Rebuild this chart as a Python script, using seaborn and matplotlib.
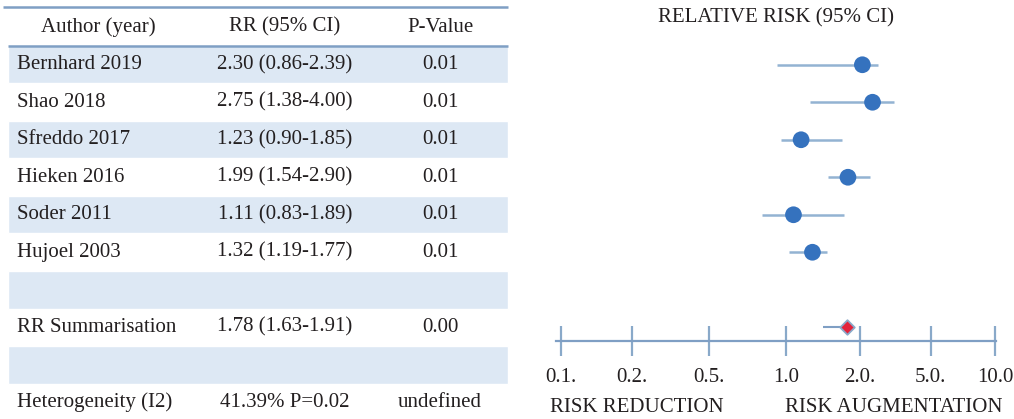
import numpy as np
import pandas as pd
import matplotlib.pyplot as plt
import matplotlib.transforms as mtrans
import seaborn as sns

# Table content
authors = ['Bernhard 2019', 'Shao 2018', 'Sfreddo 2017', 'Hieken 2016', 'Soder 2011', 'Hujoel 2003']
rr_ci = ['2.30 (0.86-2.39)', '2.75 (1.38-4.00)', '1.23 (0.90-1.85)',
         '1.99 (1.54-2.90)', '1.11 (0.83-1.89)', '1.32 (1.19-1.77)']
p_values = ['0.01', '0.01', '0.01', '0.01', '0.01', '0.01']
header = ['Author (year)', 'RR (95% CI)', 'P-Value']
summary_row = ['RR Summarisation', '1.78 (1.63-1.91)', '0.00']
hetero_row = ['Heterogeneity (I2)', '41.39% P=0.02', 'undefined']

# Forest values as drawn in the figure
point_est = [2.07, 2.36, 1.15, 1.79, 1.07, 1.28]
ci_low = [0.92, 1.25, 0.95, 1.48, 0.80, 1.03]
ci_high = [2.52, 3.10, 1.70, 2.28, 1.72, 1.47]
summ_est, summ_low, summ_high = 1.78, 1.41, 1.83

tick_values = [0.1, 0.2, 0.5, 1.0, 2.0, 5.0, 10.0]
tick_labels = ['0.1.', '0.2.', '0.5.', '1.0', '2.0.', '5.0.', '10.0']

sns.set_style('white')
plt.rcParams['font.family'] = ['Liberation Serif', 'DejaVu Serif']
TXT = '#231f20'
LINE = '#7f9fc4'
BAND = '#dde8f4'
FS = 15

W, H = 1014, 419
fig = plt.figure(figsize=(W / 100, H / 100), dpi=100)

# rows: centre of row r sits at pixel y0 + rh * r
y0, rh = 64.75, 37.5
def px2row(p):
    return (p - y0) / rh

# ---- table ----
ax_t = fig.add_axes([0, 0, 1, 1])
ax_t.set_xlim(0, W)
ax_t.set_ylim(px2row(H), px2row(0))
ax_t.axis('off')

shaded = [0, 2, 4, 6, 8]
ax_t.barh(shaded, width=500, left=8, height=1, color=BAND, zorder=0)
ax_t.hlines(px2row(7.3), 3, 508, color=LINE, lw=1.8)
ax_t.hlines(-0.5, 8, 508, color=LINE, lw=1.8)

col_x = [17, 285, 440]
ax_t.text(98, -1, header[0], ha='center', va='center', fontsize=FS, color=TXT)
ax_t.text(col_x[1], -1, header[1], ha='center', va='center', fontsize=FS, color=TXT)
ax_t.text(col_x[2], -1, header[2], ha='center', va='center', fontsize=FS, color=TXT)

body = list(zip(authors, rr_ci, p_values))
rows = list(range(len(body))) + [7, 9]
body += [tuple(summary_row), tuple(hetero_row)]
for r, (a, c, p) in zip(rows, body):
    ax_t.text(col_x[0], r, a, ha='left', va='center', fontsize=FS, color=TXT)
    ax_t.text(col_x[1], r, c, ha='center', va='center', fontsize=FS, color=TXT)
    ax_t.text(col_x[2], r, p, ha='center', va='center', fontsize=FS, color=TXT)

# ---- forest plot ----
tick_px = np.array([561, 632, 709.3, 786.3, 859.7, 930.7, 995])
log_t = np.log10(tick_values)
sl = (tick_px[1] - tick_px[0]) / (log_t[1] - log_t[0])
sr = (tick_px[-1] - tick_px[-2]) / (log_t[-1] - log_t[-2])
log_ext = np.concatenate([[-6], log_t, [6]])
px_ext = np.concatenate([[tick_px[0] - sl * 5], tick_px, [tick_px[-1] + sr * 5]])

def fwd(x):
    x = np.asarray(x, dtype=float)
    return np.interp(np.log10(np.clip(x, 1e-6, None)), log_ext, px_ext)

def inv(p):
    p = np.asarray(p, dtype=float)
    return 10 ** np.interp(p, px_ext, log_ext)

ax_left, ax_right, ax_bottom = 556, 996, 340.7
ax_f = fig.add_axes([ax_left / W, (H - ax_bottom) / H, (ax_right - ax_left) / W, ax_bottom / H])
ax_f.patch.set_alpha(0)
ax_f.set_xscale('function', functions=(fwd, inv))
ax_f.set_xlim(float(inv(ax_left)), float(inv(ax_right)))
ax_f.set_ylim(px2row(ax_bottom), px2row(0))

df = pd.DataFrame({'author': authors, 'est': point_est, 'low': ci_low,
                   'high': ci_high, 'row': np.arange(len(authors))})
ax_f.hlines(df['row'], df['low'], df['high'], color='#93b3d2', lw=1.8, zorder=2)
sns.scatterplot(data=df, x='est', y='row', s=145, color='#3572be', edgecolor='none',
                zorder=3, ax=ax_f, clip_on=False)

ax_f.hlines(7, summ_low, summ_high, color='#7f9fc4', lw=1.5, zorder=2)
ax_f.scatter([summ_est], [7], marker='D', s=55, color='#e3223a', edgecolor='#8aa8c8',
             linewidth=1.3, zorder=3, clip_on=False)

for s in ['top', 'left', 'right']:
    ax_f.spines[s].set_visible(False)
ax_f.spines['bottom'].set_color(LINE)
ax_f.spines['bottom'].set_linewidth(1.6)
ax_f.set_xticks(tick_values)
ax_f.set_xticklabels(tick_labels)
ax_f.xaxis.set_minor_locator(plt.NullLocator())
ax_f.tick_params(axis='x', bottom=True, direction='inout', length=21, width=1.6, color='#89a9c9',
                 labelsize=FS, labelcolor=TXT, pad=9)
ax_f.set_yticks([])
ax_f.set_xlabel('')
ax_f.set_ylabel('')

title_tr = mtrans.blended_transform_factory(ax_f.transAxes, ax_f.transData)
ax_f.text(0.5, px2row(18), 'RELATIVE RISK (95% CI)', transform=title_tr,
          ha='center', va='center', fontsize=FS, color=TXT)
fig.text(550 / W, 1 - 407 / H, 'RISK REDUCTION', ha='left', va='center', fontsize=FS, color=TXT)
fig.text(785 / W, 1 - 407 / H, 'RISK AUGMENTATION', ha='left', va='center', fontsize=FS, color=TXT)

fig.savefig('out.png', dpi=100)
